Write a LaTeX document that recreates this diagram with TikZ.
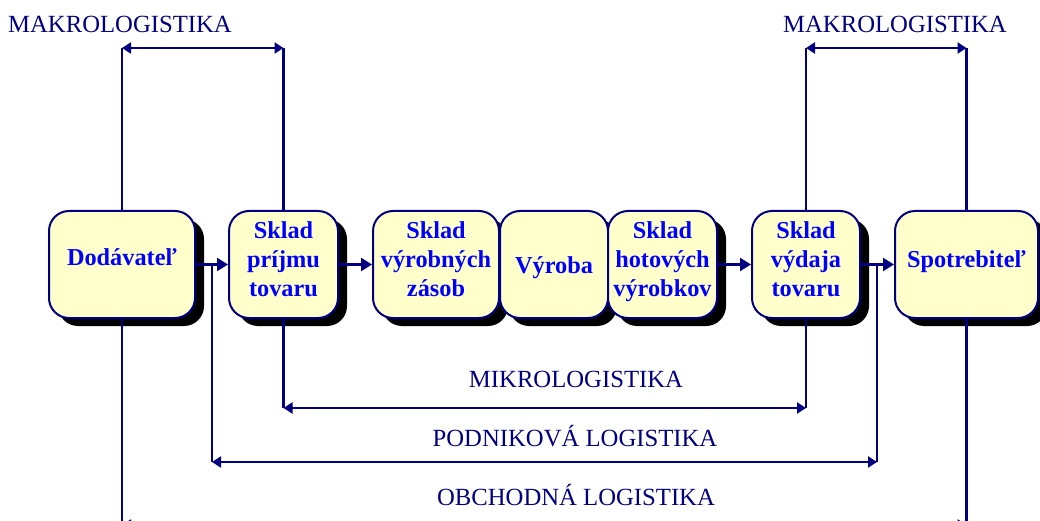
\documentclass[tikz,border=0pt]{standalone}
\usepackage{fontspec}
\setmainfont{Liberation Serif}
\usetikzlibrary{shadows,arrows.meta}
\definecolor{navyline}{HTML}{000080}
\definecolor{boxtext}{HTML}{0000FF}
\definecolor{boxfill}{HTML}{FFFFCC}
\newcommand{\boxtxt}[3]{\rule{0pt}{#1pt}#3\rule[-#2pt]{0pt}{0pt}}
\begin{document}
\begin{tikzpicture}[x=1pt,y=-1pt,
  box/.style={draw=navyline, line width=2pt, fill=boxfill, rounded corners=20pt,
    minimum height=107pt, inner sep=0pt, align=center, text=boxtext,
    font=\fontsize{24.3}{29}\selectfont\bfseries,
    drop shadow={shadow xshift=9pt, shadow yshift=-8pt, fill=black, opacity=1}},
  conn/.style={draw=navyline, line width=2.2pt},
  arr/.style={conn, -{Triangle[length=11pt,width=13pt]}},
  darr/.style={conn, {Triangle[length=9pt,width=11pt]}-{Triangle[length=9pt,width=11pt]}},
  lbl/.style={text=navyline, font=\fontsize{24.7}{29}\selectfont, anchor=base, inner sep=0pt}]
\useasboundingbox (0,0) rectangle (1040,521);
% boxes
\node[box, minimum width=146pt] (d) at (122,264.5) {\boxtxt{20}{19}{Dodávateľ}};
\node[box, minimum width=109pt] (p) at (283.5,264.5) {\boxtxt{18}{13}{Sklad\\príjmu\\tovaru}};
\node[box, minimum width=126pt] (z) at (436,264.5) {\boxtxt{18}{13}{Sklad\\výrobných\\zásob}};
\node[box, minimum width=108pt] (v) at (554,264.5) {\boxtxt{24}{7}{Výroba}};
\node[box, minimum width=109pt] (h) at (662.5,264.5) {\boxtxt{18}{13}{Sklad\\hotových\\výrobkov}};
\node[box, minimum width=108pt] (x) at (806,264.5) {\boxtxt{18}{13}{Sklad\\výdaja\\tovaru}};
\node[box, minimum width=143pt] (s) at (966.5,264.5) {\boxtxt{20}{15}{Spotrebiteľ}};
% flow arrows
\draw[arr] (d.east) -- (p.west);
\draw[arr] (p.east) -- (z.west);
\draw[arr] (h.east) -- (x.west);
\draw[arr] (x.east) -- (s.west);
% coordinates
\coordinate (mk1) at (d.north |- 0,48);
\coordinate (mk2) at (p.north |- 0,48);
\coordinate (mk3) at (x.north |- 0,48);
\coordinate (mk4) at (s.north |- 0,48);
\coordinate (mi1) at (p.south |- 0,408);
\coordinate (mi2) at (x.south |- 0,408);
\coordinate (pa) at (212,264.5);
\coordinate (pb) at (877,264.5);
\coordinate (pa2) at (212,462);
\coordinate (pb2) at (877,462);
\coordinate (ob1) at (d.south |- 0,525);
\coordinate (ob2) at (s.south |- 0,525);
% makrologistika
\draw[conn] (d.north) -- (mk1);
\draw[conn] (p.north) -- (mk2);
\draw[darr] (mk1) -- (mk2);
\draw[conn] (x.north) -- (mk3);
\draw[conn] (s.north) -- (mk4);
\draw[darr] (mk3) -- (mk4);
% mikrologistika
\draw[conn] (p.south) -- (mi1);
\draw[conn] (x.south) -- (mi2);
\draw[darr] (mi1) -- (mi2);
% podnikova
\draw[conn] (pa) -- (pa2);
\draw[conn] (pb) -- (pb2);
\draw[darr] (pa2) -- (pb2);
% obchodna
\draw[conn] (d.south) -- (ob1);
\draw[conn] (s.south) -- (ob2);
\draw[darr] (ob1) -- (ob2);
% labels
\node[lbl] (l1) at (120,33) {MAKROLOGISTIKA};
\node[lbl] (l2) at (895,33) {MAKROLOGISTIKA};
\node[lbl] (l3) at (576,387) {MIKROLOGISTIKA};
\node[lbl] (l4) at (575,446) {PODNIKOVÁ LOGISTIKA};
\node[lbl] (l5) at (576,505) {OBCHODNÁ LOGISTIKA};
\end{tikzpicture}
\end{document}
